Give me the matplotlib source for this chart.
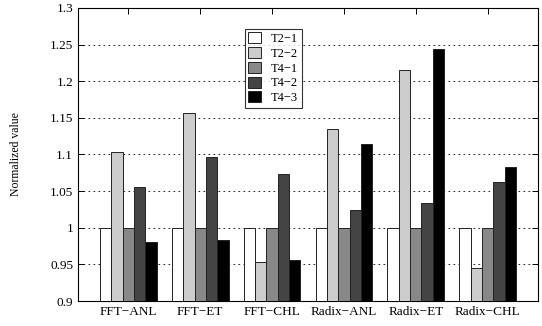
import matplotlib
matplotlib.use("Agg")
import matplotlib.pyplot as plt
import numpy as np

plt.rcParams["font.family"] = ["Liberation Serif", "DejaVu Serif"]

categories = ["FFT\u2212ANL", "FFT\u2212ET", "FFT\u2212CHL",
              "Radix\u2212ANL", "Radix\u2212ET", "Radix\u2212CHL"]
series_names = ["T2\u22121", "T2\u22122", "T4\u22121", "T4\u22122", "T4\u22123"]
t2_1 = [1.0, 1.0, 1.0, 1.0, 1.0, 1.0]
t2_2 = [1.103, 1.157, 0.953, 1.135, 1.215, 0.945]
t4_1 = [1.0, 1.0, 1.0, 1.0, 1.0, 1.0]
t4_2 = [1.055, 1.097, 1.074, 1.024, 1.034, 1.063]
t4_3 = [0.980, 0.983, 0.956, 1.114, 1.244, 1.083]
colors = ["#ffffff", "#cccccc", "#888888", "#444444", "#000000"]

series = [t2_1, t2_2, t4_1, t4_2, t4_3]
x = np.arange(1, len(categories) + 1)
width = 0.158

fig = plt.figure(figsize=(5.42, 3.26), dpi=100)
ax = fig.add_axes([78 / 542, 1 - 301 / 326, 460 / 542, 293 / 326])

for i, (vals, name, c) in enumerate(zip(series, series_names, colors)):
    offs = (i - 2) * width
    ax.bar(x + offs, np.array(vals) - 0.9, width, bottom=0.9, color=c,
           edgecolor="#222222", linewidth=0.7, label=name, zorder=3)

ax.set_xlim(0.3, 6.7)
ax.set_ylim(0.9, 1.3)
ax.set_yticks([0.9, 0.95, 1.0, 1.05, 1.1, 1.15, 1.2, 1.25, 1.3])
ax.set_yticklabels(["0.9", "0.95", "1", "1.05", "1.1", "1.15", "1.2", "1.25", "1.3"])
ax.set_xticks(x)
ax.set_xticklabels(categories)
ax.tick_params(direction="in", top=True, right=True, labelsize=9.5, length=4, width=0.7)
ax.yaxis.grid(True, linestyle=(0, (2, 4)), color="black", linewidth=0.6, zorder=0)
ax.set_axisbelow(True)
for sp in ax.spines.values():
    sp.set_linewidth(0.8)
ax.set_ylabel("Normalized value", fontsize=8.5, labelpad=20)

leg = ax.legend(loc="upper left", bbox_to_anchor=(0.362, 0.93), fontsize=9,
                frameon=True, fancybox=False, edgecolor="black",
                handlelength=1.0, handleheight=1.0, handletextpad=0.8,
                labelspacing=0.15, borderpad=0.3, borderaxespad=0)
leg.get_frame().set_linewidth(0.8)

fig.savefig("out.png", dpi=100)
